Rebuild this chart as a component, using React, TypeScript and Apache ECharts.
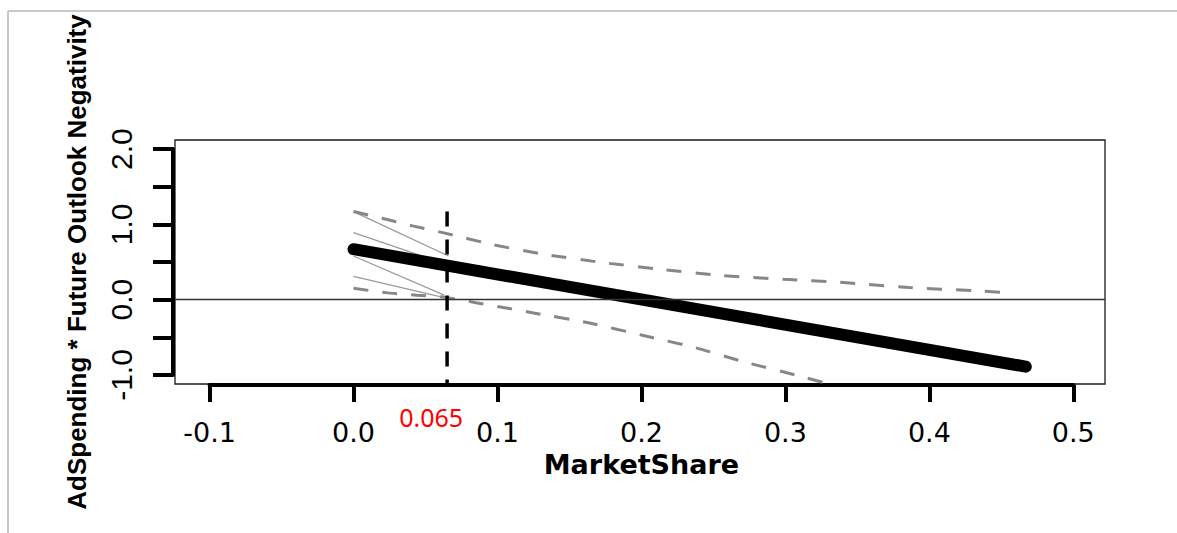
import React, { useEffect, useRef } from "react";
import * as echarts from "echarts";

// ---- data ----
const xAxisTitle = "MarketShare";
const yAxisTitle = "AdSpending * Future Outlook Negativity";

// conditional effect (thick line)
const effectX = [0, 0.467];
const effectY = [0.67, -0.89];

// upper confidence band (dashed)
const upperX = [0, 0.022, 0.041, 0.062, 0.097, 0.133, 0.174, 0.215, 0.256, 0.299, 0.338, 0.386, 0.43, 0.458];
const upperY = [1.17, 1.07, 0.98, 0.89, 0.73, 0.6, 0.49, 0.4, 0.32, 0.27, 0.23, 0.16, 0.12, 0.09];

// lower confidence band (dashed)
const lowerX = [0, 0.024, 0.044, 0.064, 0.085, 0.106, 0.126, 0.164, 0.2, 0.238, 0.272, 0.307, 0.33];
const lowerY = [0.15, 0.09, 0.06, 0.03, -0.04, -0.11, -0.18, -0.31, -0.47, -0.64, -0.83, -1.0, -1.12];

// thin grey segments near the origin
const thinStartX = [0, 0, 0, 0];
const thinStartY = [1.17, 0.89, 0.58, 0.31];
const thinEndX = [0.066, 0.066, 0.063, 0.06];
const thinEndY = [0.58, 0.46, 0.06, 0.04];

// Johnson-Neyman point
const jnX = 0.065;
const jnTop = 1.17;
const jnLabel = "0.065";

// axis ranges
const xTickMin = -0.1, xTickMax = 0.5, xTickStep = 0.1;
const yTickMin = -1, yTickMax = 2, yTickStep = 0.5;
const X_RANGE = [-0.124, 0.522];
const Y_RANGE = [-1.12, 2.12];

// ---- layout ----
const W = 1177, H = 533;
const BOX = { left: 175, top: 140, right: 1105, bottom: 384 };
const xPx = (v: number) => BOX.left + ((v - X_RANGE[0]) / (X_RANGE[1] - X_RANGE[0])) * (BOX.right - BOX.left);
const yPx = (v: number) => BOX.top + ((Y_RANGE[1] - v) / (Y_RANGE[1] - Y_RANGE[0])) * (BOX.bottom - BOX.top);

const zip = (xs: number[], ys: number[]) => xs.map((x, i) => [x, ys[i]]);

export default function App() {
  const ref = useRef<HTMLDivElement>(null);

  useEffect(() => {
    document.body.style.margin = "0";
    const chart = echarts.init(ref.current as HTMLDivElement, null, { renderer: "svg" });

    const dashGrey = { color: "#878787", width: 3, type: [15, 14] as any, cap: "butt" as const };

    const thinSeries = thinStartX.map((sx, i) => ({
      type: "line",
      xAxisIndex: 0,
      yAxisIndex: 0,
      data: [[sx, thinStartY[i]], [thinEndX[i], thinEndY[i]]],
      symbol: "none",
      silent: true,
      lineStyle: { color: "#9a9a9a", width: 1.3 },
      z: 2,
    }));

    const option: any = {
      animation: false,
      grid: [
        {
          left: BOX.left,
          top: BOX.top,
          width: BOX.right - BOX.left,
          height: BOX.bottom - BOX.top,
          show: true,
          borderColor: "#1a1a1a",
          borderWidth: 1.3,
        },
        {
          left: 173,
          top: yPx(yTickMax),
          width: 10,
          height: yPx(yTickMin) - yPx(yTickMax),
        },
        {
          left: xPx(xTickMin),
          width: xPx(xTickMax) - xPx(xTickMin),
          top: 300,
          height: 85,
        },
      ],
      xAxis: [
        { type: "value", gridIndex: 0, min: X_RANGE[0], max: X_RANGE[1], show: false, splitLine: { show: false } },
        { type: "value", gridIndex: 1, show: false, splitLine: { show: false } },
        {
          type: "value",
          gridIndex: 2,
          min: xTickMin,
          max: xTickMax,
          interval: xTickStep,
          position: "bottom",
          splitLine: { show: false },
          axisLine: { show: true, lineStyle: { color: "#000", width: 4 } },
          axisTick: { show: true, length: 17, lineStyle: { color: "#000", width: 4 } },
          axisLabel: {
            margin: 34,
            color: "#000",
            fontFamily: "DejaVu Sans",
            fontSize: 27,
            formatter: (v: number) => v.toFixed(1),
          },
          name: xAxisTitle,
          nameLocation: "middle",
          nameGap: 66,
          nameTextStyle: { color: "#000", fontFamily: "DejaVu Sans", fontWeight: "bold", fontSize: 27 },
        },
      ],
      yAxis: [
        { type: "value", gridIndex: 0, min: Y_RANGE[0], max: Y_RANGE[1], show: false, splitLine: { show: false } },
        {
          type: "value",
          gridIndex: 1,
          min: yTickMin,
          max: yTickMax,
          interval: yTickStep,
          position: "left",
          splitLine: { show: false },
          axisLine: { show: true, lineStyle: { color: "#000", width: 4 } },
          axisTick: { show: true, length: 20, lineStyle: { color: "#000", width: 4 } },
          axisLabel: {
            rotate: 90,
            margin: 37,
            color: "#000",
            fontFamily: "Liberation Sans",
            fontSize: 30,
            formatter: (v: number) => (Math.abs(v - Math.round(v)) < 1e-9 ? v.toFixed(1) : ""),
          },
          name: yAxisTitle,
          nameLocation: "middle",
          nameRotate: 90,
          nameGap: 83,
          nameTextStyle: {
            color: "#000",
            fontFamily: "Liberation Sans",
            fontWeight: "bold",
            fontSize: 26,
          },
        },
        { type: "value", gridIndex: 2, show: false, splitLine: { show: false } },
      ],
      series: [
        {
          type: "line",
          xAxisIndex: 0,
          yAxisIndex: 0,
          data: [],
          symbol: "none",
          silent: true,
          markLine: {
            silent: true,
            symbol: "none",
            label: { show: false },
            lineStyle: { color: "#333", width: 1.3, type: "solid" },
            data: [{ yAxis: 0 }],
          },
          z: 1,
        },
        ...thinSeries,
        {
          type: "line",
          xAxisIndex: 0,
          yAxisIndex: 0,
          data: zip(upperX, upperY),
          symbol: "none",
          smooth: 0.2,
          silent: true,
          lineStyle: dashGrey,
          z: 3,
        },
        {
          type: "line",
          xAxisIndex: 0,
          yAxisIndex: 0,
          data: zip(lowerX, lowerY),
          symbol: "none",
          smooth: 0.2,
          silent: true,
          lineStyle: dashGrey,
          z: 3,
        },
        {
          type: "line",
          xAxisIndex: 0,
          yAxisIndex: 0,
          data: zip(effectX, effectY),
          symbol: "none",
          silent: true,
          lineStyle: { color: "#000", width: 12, cap: "round" },
          z: 4,
        },
        {
          type: "line",
          xAxisIndex: 0,
          yAxisIndex: 0,
          data: [[jnX, jnTop], [jnX, Y_RANGE[0]]],
          symbol: "none",
          silent: true,
          lineStyle: { color: "#000", width: 3.5, type: [15, 13], cap: "butt" },
          z: 5,
        },
      ],
      graphic: [
        {
          type: "line",
          shape: { x1: 8, y1: 11, x2: W, y2: 11 },
          style: { stroke: "#c8c8c8", lineWidth: 2 },
          silent: true,
        },
        {
          type: "line",
          shape: { x1: 8, y1: 11, x2: 8, y2: H },
          style: { stroke: "#c8c8c8", lineWidth: 2 },
          silent: true,
        },
        {
          type: "text",
          x: xPx(jnX) - 16,
          y: 417,
          style: {
            text: jnLabel,
            fill: "#ff0000",
            font: '25px "Noto Sans"',
            textAlign: "center",
            textVerticalAlign: "middle",
          },
          silent: true,
        },
      ],
    };

    chart.setOption(option);
    return () => chart.dispose();
  }, []);

  return <div ref={ref} style={{ width: W, height: H }} />;
}
